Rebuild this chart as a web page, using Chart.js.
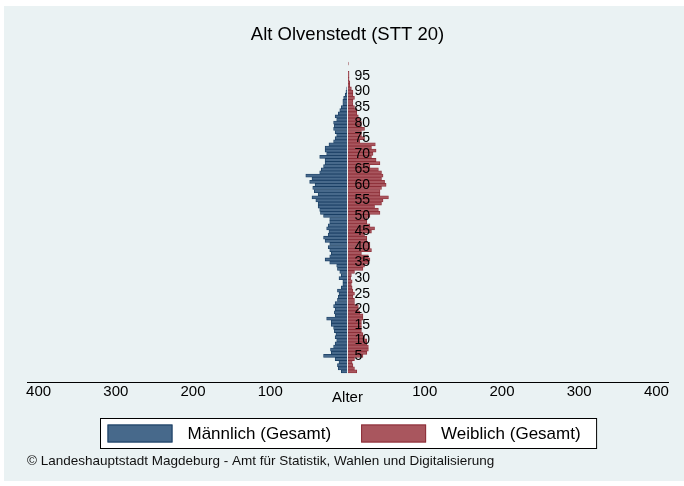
<!DOCTYPE html>
<html>
<head>
<meta charset="utf-8">
<script src="https://cdn.jsdelivr.net/npm/chart.js@4.4.1/dist/chart.umd.min.js"></script>
<style>
  html, body { margin: 0; padding: 0; background: #ffffff; }
  #wrap { width: 684px; height: 486px; }
</style>
</head>
<body>
<div id="wrap"><canvas id="c" width="684" height="486"></canvas></div>
<script>
// ---- data ----
const TITLE = 'Alt Olvenstedt (STT 20)';
const FOOTER = '\u00A9 Landeshauptstadt Magdeburg - Amt f\u00FCr Statistik, Wahlen und Digitalisierung';
const SERIES_NAMES = ['M\u00E4nnlich (Gesamt)', 'Weiblich (Gesamt)'];
const AXIS_CENTER_LABEL = 'Alter';

const AGES = Array.from({length: 100}, (_, i) => i); // categories 0..99

const MALE = [
   8, 12, 13, 11, 16, 31, 21, 22, 18, 16,
  14, 16, 15, 17, 18, 21, 21, 27, 16, 17,
  16, 18, 16, 13, 12, 11, 13,  8,  6,  6,
  11,  8, 10, 13, 14, 23, 29, 23, 21, 23,
  25, 23, 29, 31, 25, 24, 27, 25, 23, 23,
  31, 35, 36, 38, 38, 41, 46, 38, 43, 45,
  42, 49, 46, 54, 36, 34, 31, 29, 29, 36,
  27, 29, 29, 24, 18, 16, 14, 16, 18, 17,
  18, 14, 16, 12, 10,  8,  6,  6,  5,  3,
   2,  1,  0,  0,  0,  0,  0,  0,  0,  0
];

const FEMALE = [
  12,  9,  7,  6,  9, 20, 25, 27, 27, 25,
  25, 22, 20, 18, 18, 18, 18, 20, 20, 16,
  14, 14,  9,  9,  7,  9,  7,  6,  5,  6,
   4,  5,  9, 20, 22, 27, 29, 27, 18, 31,
  29, 29, 25, 25, 22, 31, 35, 29, 25, 25,
  29, 42, 40, 35, 44, 46, 53, 42, 42, 44,
  50, 48, 44, 46, 44, 40, 29, 42, 37, 31,
  33, 37, 31, 36, 16, 22, 18, 18, 22, 18,
  18, 16, 14, 12, 12,  9,  7,  7,  9,  7,
   7,  5,  3,  3,  2,  2,  2,  0,  0,  1
];

const AGE_TICKS = [5, 10, 15, 20, 25, 30, 35, 40, 45, 50, 55, 60, 65, 70, 75, 80, 85, 90, 95];
const X_TICKS = [-400, -300, -200, -100, 0, 100, 200, 300, 400];

// ---- styles ----
const FONT = 'Arial, "Liberation Sans", Helvetica, sans-serif';
const PANEL = 'rgb(234,242,243)';
const MALE_FILL = '#47698b';
const MALE_LINE = '#1a3f63';
const FEMALE_FILL = '#a9565e';
const FEMALE_LINE = '#8c2f38';

const panelPlugin = {
  id: 'panel',
  beforeDraw(chart) {
    const ctx = chart.ctx;
    ctx.save();
    ctx.fillStyle = '#ffffff';
    ctx.fillRect(0, 0, chart.width, chart.height);
    ctx.fillStyle = PANEL;
    ctx.fillRect(4, 6, chart.width - 4, chart.height - 11);
    ctx.restore();
  }
};

const legendPlugin = {
  id: 'boxLegend',
  afterDraw(chart) {
    const ctx = chart.ctx;
    const sw = 65, sh = 18, gap = 15, spacing = 30, padL = 7, padR = 16, fh = 30;
    ctx.save();
    ctx.font = '17px ' + FONT;
    const items = chart.data.datasets.map(ds => ({
      text: ds.label, fill: ds.backgroundColor, line: ds.borderColor,
      w: ctx.measureText(ds.label).width
    }));
    let total = padL + padR + spacing * (items.length - 1);
    items.forEach(it => { total += sw + gap + it.w; });
    const cx = (chart.chartArea.left + chart.chartArea.right) / 2 + 1;
    const fx = Math.round(cx - total / 2) + 0.5;
    const fy = Math.round(chart.chartArea.bottom + 36) + 0.5;
    ctx.fillStyle = '#ffffff';
    ctx.fillRect(fx, fy, total, fh);
    ctx.strokeStyle = '#000000';
    ctx.lineWidth = 1;
    ctx.strokeRect(fx, fy, total, fh);
    let x = fx + padL;
    const cy = fy + fh / 2;
    items.forEach(it => {
      ctx.fillStyle = it.fill;
      ctx.fillRect(x, cy - sh / 2, sw, sh);
      ctx.strokeStyle = it.line;
      ctx.strokeRect(x + 0.5, cy - sh / 2 + 0.5, sw - 1, sh - 1);
      ctx.fillStyle = '#000000';
      ctx.textBaseline = 'middle';
      ctx.textAlign = 'left';
      ctx.fillText(it.text, x + sw + gap, cy + 0.5);
      x += sw + gap + it.w + spacing;
    });
    ctx.restore();
  }
};

const maleData = AGES.map((a, i) => ({ y: a, x: -MALE[i] }));
const femaleData = AGES.map((a, i) => ({ y: a, x: FEMALE[i] }));

new Chart(document.getElementById('c'), {
  type: 'bar',
  data: {
    datasets: [
      { label: SERIES_NAMES[0], data: maleData, backgroundColor: MALE_FILL, borderColor: MALE_LINE, borderWidth: 0.8, borderSkipped: 'start' },
      { label: SERIES_NAMES[1], data: femaleData, backgroundColor: FEMALE_FILL, borderColor: FEMALE_LINE, borderWidth: 0.8, borderSkipped: 'start' }
    ]
  },
  options: {
    indexAxis: 'y',
    responsive: false,
    animation: false,
    devicePixelRatio: 1,
    layout: { padding: { left: 27, right: 16, top: 0, bottom: 0 } },
    datasets: { bar: { barPercentage: 1, categoryPercentage: 1 } },
    scales: {
      x: {
        type: 'linear', position: 'bottom', min: -415, max: 415, stacked: true, offset: false,
        grid: { display: true, drawOnChartArea: false, drawTicks: false, color: 'rgba(0,0,0,0)' },
        border: { display: true, color: '#000000', width: 1 },
        afterBuildTicks: s => { s.ticks = X_TICKS.map(v => ({ value: v })); },
        ticks: {
          autoSkip: false, maxRotation: 0, padding: 1, color: '#000000',
          font: c => (c.tick && c.tick.value === 0)
            ? { family: FONT, size: 15, lineHeight: 2 }
            : { family: FONT, size: 15, lineHeight: 1.2 },
          callback: v => v === 0 ? AXIS_CENTER_LABEL : String(Math.abs(v))
        }
      },
      y: {
        type: 'linear', position: { x: 29.1 }, min: -3.4, max: 101, stacked: true, offset: false,
        grid: { display: false, drawTicks: false, offset: false },
        border: { display: false },
        afterBuildTicks: s => { s.ticks = AGE_TICKS.map(v => ({ value: v })); },
        ticks: {
          autoSkip: false, padding: 0, color: '#000000', z: 1,
          font: { family: FONT, size: 14, lineHeight: 0.01 },
          callback: v => v < 10 ? String(v) + '  ' : String(v)
        }
      }
    },
    plugins: {
      legend: { display: false },
      tooltip: { enabled: false },
      title: {
        display: true, text: TITLE, color: '#000000',
        font: { family: FONT, size: 18.5, weight: 'normal' },
        padding: { top: 23.4, bottom: 11.8 }
      },
      subtitle: {
        display: true, text: FOOTER, position: 'bottom', align: 'start', color: '#111111',
        font: { family: FONT, size: 13.5, weight: 'normal' },
        padding: { top: 38.8, bottom: 17 }
      }
    }
  },
  plugins: [panelPlugin, legendPlugin]
});
</script>
</body>
</html>
